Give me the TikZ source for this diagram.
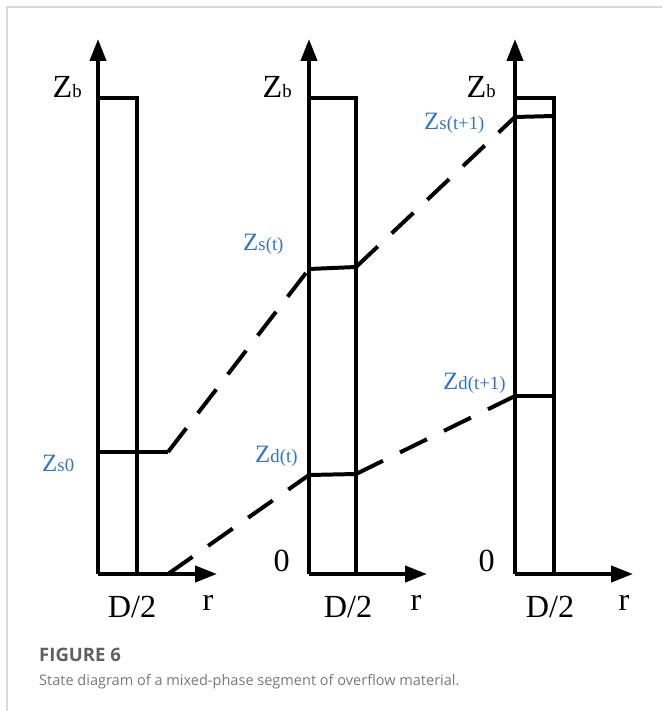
\documentclass[tikz,border=0pt]{standalone}
\usepackage{fontspec}
\setmainfont{Liberation Serif}
\newfontfamily\capfont{Open Sans}
\usetikzlibrary{arrows.meta}
\definecolor{zblue}{RGB}{47,117,199}
\definecolor{framegray}{RGB}{218,218,218}
\definecolor{capgray}{RGB}{96,96,96}
\newcommand{\lo}[1]{{\fontsize{16}{18}\selectfont #1}}

\begin{document}
\begin{tikzpicture}[x=0.03cm,y=-0.03cm,
  axis/.style={line width=3.4pt,-{Triangle[length=0.66cm,width=0.48cm]}},
  wall/.style={line width=3.4pt},
  front/.style={line width=3.4pt,dash pattern=on 0.9cm off 0.57cm},
  big/.style={inner sep=0,font=\fontsize{27.5}{30}\selectfont},
  tag/.style={inner sep=0,text=zblue,font=\fontsize{21.3}{24}\selectfont}]
\useasboundingbox (0,0) rectangle (662,711);
\draw[framegray,line width=1.6pt] (7,711) -- (7,7) -- (662,7);
% column 1
\coordinate (o1) at (98,574);
\coordinate (y1) at (98,39);
\coordinate (x1) at (217,574);
\coordinate (t1) at (98,98);
\coordinate (u1) at (137,98);
\coordinate (b1) at (137,574);
\coordinate (s1) at (98,452);
\coordinate (k1) at (168,452);
\coordinate (d1) at (168,574);
% column 2
\coordinate (o2) at (309,574);
\coordinate (y2) at (309,39);
\coordinate (x2) at (427,574);
\coordinate (t2) at (309,98);
\coordinate (u2) at (356,98);
\coordinate (b2) at (356,574);
\coordinate (s2) at (309,269);
\coordinate (k2) at (356,267);
\coordinate (e2) at (309,475);
\coordinate (d2) at (356,474);
% column 3
\coordinate (o3) at (515,574);
\coordinate (y3) at (515,39);
\coordinate (x3) at (633,574);
\coordinate (t3) at (515,98);
\coordinate (u3) at (554,98);
\coordinate (b3) at (554,574);
\coordinate (s3) at (515,117);
\coordinate (k3) at (554,116);
\coordinate (e3) at (515,396);
\coordinate (d3) at (554,396);
\draw[axis] (o1) -- (y1);
\draw[axis] (o1) -- (x1);
\draw[wall] (t1) -- (u1) -- (b1);
\draw[wall] (s1) -- (k1);
\draw[axis] (o2) -- (y2);
\draw[axis] (o2) -- (x2);
\draw[wall] (t2) -- (u2) -- (b2);
\draw[wall] (s2) -- (k2);
\draw[wall] (e2) -- (d2);
\draw[axis] (o3) -- (y3);
\draw[axis] (o3) -- (x3);
\draw[wall] (t3) -- (u3) -- (b3);
\draw[wall] (s3) -- (k3);
\draw[wall] (e3) -- (d3);
\draw[front] (k1) -- (s2);
\draw[front] (d1) -- (e2);
\draw[front] (k2) -- (s3);
\draw[front] (d2) -- (e3);
% labels
\node[big,anchor=base east] (zb1) at (82,98) {Z\lo{b}};
\node[big,anchor=base east] (zb2) at (292,98) {Z\lo{b}};
\node[big,anchor=base east] (zb3) at (496,98) {Z\lo{b}};
\node[tag,anchor=base west] (zs0) at (42,471) {Z\lo{s0}};
\node[tag,anchor=base west] (zst) at (243,251) {Z\lo{s(t)}};
\node[tag,anchor=base west] (zdt) at (255,462) {Z\lo{d(t)}};
\node[tag,anchor=base west] (zsn) at (424,130) {Z\lo{s(t+1)}};
\node[tag,anchor=base west] (zdn) at (443,389) {Z\lo{d(t+1)}};
\node[big,anchor=base east] (n2) at (290,571) {0};
\node[big,anchor=base east] (n3) at (495,571) {0};
\node[big,anchor=base] (h1) at (132,617) {D/2};
\node[big,anchor=base] (h2) at (348,617) {D/2};
\node[big,anchor=base] (h3) at (550,617) {D/2};
\node[big,anchor=base] (r1) at (208,610) {r};
\node[big,anchor=base] (r2) at (416,610) {r};
\node[big,anchor=base] (r3) at (624,610) {r};
% caption
\node[inner sep=0,anchor=base west,text=capgray,font=\capfont\bfseries\fontsize{15.8}{18}\selectfont] (fig) at (39,661) {FIGURE 6};
\node[inner sep=0,anchor=base west,text=capgray!85,font=\capfont\fontsize{12.4}{15}\selectfont] (cap) at (39,685) {State diagram of a mixed-phase segment of overflow material.};
\end{tikzpicture}
\end{document}
